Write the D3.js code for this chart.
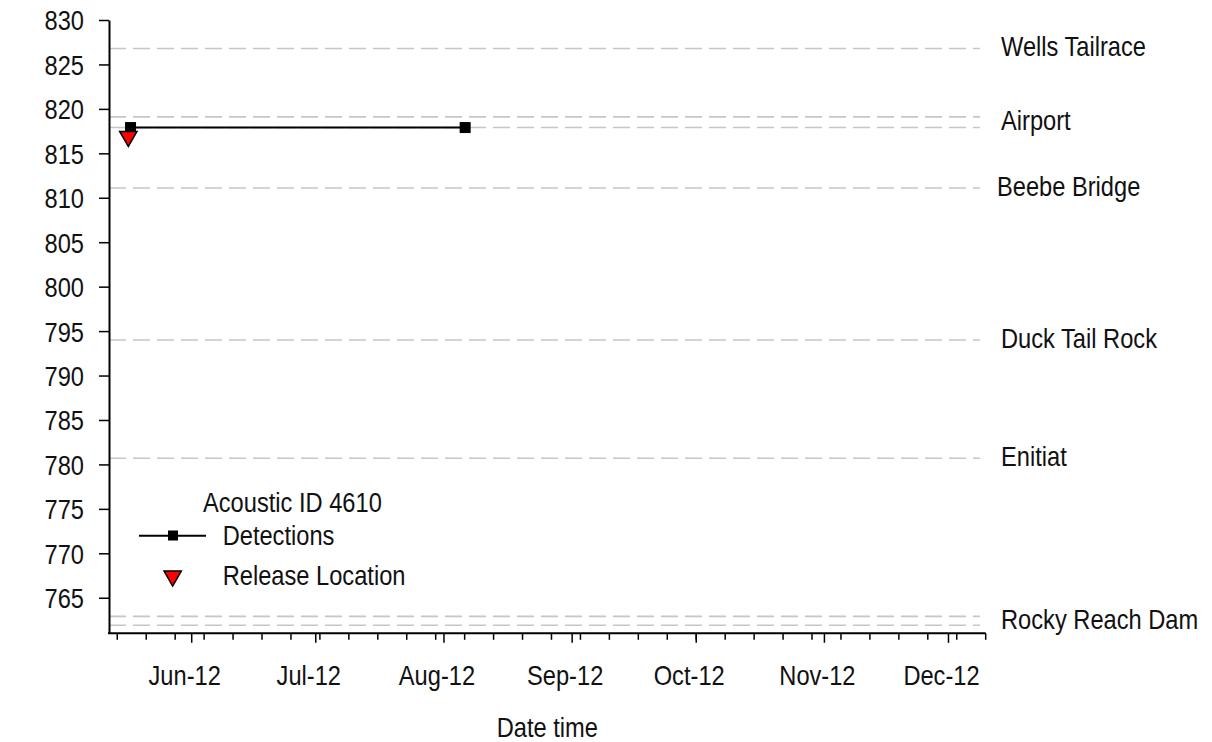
<!DOCTYPE html>
<html>
<head>
<meta charset="utf-8">
<script src="https://cdn.jsdelivr.net/npm/d3@7"></script>
<style>
  body { margin: 0; background: #fff; }
  svg text { font-family: "Liberation Sans Narrow", "Arial Narrow", "Liberation Sans", Arial, sans-serif; font-size: 27.5px; fill: #111; }
</style>
</head>
<body>
<div id="chart"></div>
<script>
(function () {
    // data
    const siteNames = ["Wells Tailrace", "Airport", "Beebe Bridge", "Duck Tail Rock", "Enitiat", "Rocky Reach Dam"];
    const siteLines = [[826.8], [819.1, 817.9], [811.1], [794.0], [780.7], [762.9, 761.9]];
    const detectionTimes = ["2012-05-17 05:00", "2012-08-06 03:00"];
    const detectionValues = [817.9, 817.9];
    const releaseTimes = ["2012-05-16 16:00"];
    const releaseValues = [816.9];
    const yTicks = [765, 770, 775, 780, 785, 790, 795, 800, 805, 810, 815, 820, 825, 830];
    const fishId = "Acoustic ID 4610";

    const width = 1212, height = 742;
    const parse = d3.timeParse("%Y-%m-%d %H:%M");

    const svg = d3.select("#chart").append("svg")
        .attr("width", width)
        .attr("height", height);

    const x = d3.scaleTime()
        .domain([new Date(2012, 4, 12), new Date(2012, 11, 10)])
        .range([109, 985.7]);

    const y = d3.scaleLinear()
        .domain([761, 830])
        .range([633.3, 20]);

    // site reference lines
    const sites = siteNames.map((name, i) => ({ name, lines: siteLines[i] }));
    const siteG = svg.append("g");
    sites.forEach(s => {
        s.lines.forEach(v => {
            siteG.append("line")
                .attr("x1", x.range()[0])
                .attr("x2", 980)
                .attr("y1", y(v))
                .attr("y2", y(v))
                .attr("stroke", "#c6c6c6")
                .attr("stroke-width", 1.6)
                .attr("stroke-dasharray", "17,7");
        });
        siteG.append("text")
            .attr("x", s.name === "Beebe Bridge" ? 997 : 1001)
            .attr("y", y(d3.mean(s.lines)) - 2)
            .attr("dy", "0.36em")
            .text(s.name);
    });

    // y axis
    const yAxis = svg.append("g")
        .attr("transform", `translate(${x.range()[0]},0)`)
        .call(d3.axisLeft(y).tickValues(yTicks).tickSize(10).tickPadding(15).tickSizeOuter(0));
    yAxis.select(".domain").attr("stroke", "#000").attr("stroke-width", 2);
    yAxis.selectAll(".tick line").attr("stroke", "#000").attr("stroke-width", 1.5);
    yAxis.selectAll(".tick text").attr("font-size", null).attr("font-family", null).attr("dy", "0.36em");

    // x axis: minor weekly ticks, major monthly ticks
    const xG = svg.append("g").attr("transform", `translate(0,${y.range()[0]})`);
    xG.selectAll(".minor")
        .data(d3.timeMonday.range(x.domain()[0], d3.timeDay.offset(x.domain()[1], 1)))
        .enter().append("line")
        .attr("x1", d => x(d)).attr("x2", d => x(d))
        .attr("y1", 0).attr("y2", 6.5)
        .attr("stroke", "#000").attr("stroke-width", 1.5);
    const months = d3.timeMonth.range(x.domain()[0], x.domain()[1]);
    xG.selectAll(".major")
        .data(months)
        .enter().append("line")
        .attr("x1", d => x(d)).attr("x2", d => x(d))
        .attr("y1", 0).attr("y2", 9.5)
        .attr("stroke", "#000").attr("stroke-width", 1.5);
    xG.selectAll(".mlabel")
        .data(months)
        .enter().append("text")
        .attr("x", d => x(d) - 7)
        .attr("y", 42)
        .attr("dy", "0.36em")
        .attr("text-anchor", "middle")
        .text(d3.timeFormat("%b-%y"));
    xG.append("line")
        .attr("x1", x.range()[0] - 1).attr("x2", x.range()[1])
        .attr("stroke", "#000").attr("stroke-width", 2);

    svg.append("text")
        .attr("x", (x.range()[0] + x.range()[1]) / 2)
        .attr("y", 727)
        .attr("dy", "0.36em")
        .attr("text-anchor", "middle")
        .text("Date time");

    // detections
    const det = detectionTimes.map((t, i) => ({ t: parse(t), v: detectionValues[i] }));
    svg.append("path")
        .datum(det)
        .attr("fill", "none")
        .attr("stroke", "#000")
        .attr("stroke-width", 2)
        .attr("d", d3.line().x(d => x(d.t)).y(d => y(d.v)));
    svg.selectAll(".det")
        .data(det)
        .enter().append("rect")
        .attr("x", d => x(d.t) - 5.5)
        .attr("y", d => y(d.v) - 5.5)
        .attr("width", 11)
        .attr("height", 11)
        .attr("fill", "#000");

    // release location
    const tri = d3.symbol().type(d3.symbolTriangle).size(130);
    const rel = releaseTimes.map((t, i) => ({ t: parse(t), v: releaseValues[i] }));
    svg.selectAll(".rel")
        .data(rel)
        .enter().append("path")
        .attr("d", tri)
        .attr("transform", d => `translate(${x(d.t)},${y(d.v)}) rotate(180)`)
        .attr("fill", "#ff0000")
        .attr("stroke", "#000")
        .attr("stroke-width", 1.5);

    // legend
    const leg = svg.append("g");
    leg.append("text").attr("x", 203).attr("y", 502).attr("dy", "0.36em").text(fishId);
    leg.append("line").attr("x1", 139).attr("x2", 206).attr("y1", 535.7).attr("y2", 535.7)
        .attr("stroke", "#000").attr("stroke-width", 2);
    leg.append("rect").attr("x", 168).attr("y", 530.5).attr("width", 10).attr("height", 10).attr("fill", "#000");
    leg.append("text").attr("x", 222.7).attr("y", 535).attr("dy", "0.36em").text("Detections");
    leg.append("path").attr("d", tri)
        .attr("transform", "translate(172.7,576) rotate(180)")
        .attr("fill", "#ff0000").attr("stroke", "#000").attr("stroke-width", 1.5);
    leg.append("text").attr("x", 222.7).attr("y", 575).attr("dy", "0.36em").text("Release Location");

    // no narrow face installed: squeeze the regular one to a condensed width
    svg.selectAll("text").each(function () {
        const w = this.getComputedTextLength();
        d3.select(this)
            .attr("textLength", (w * 0.86).toFixed(1))
            .attr("lengthAdjust", "spacingAndGlyphs");
    });
})();
</script>
</body>
</html>
